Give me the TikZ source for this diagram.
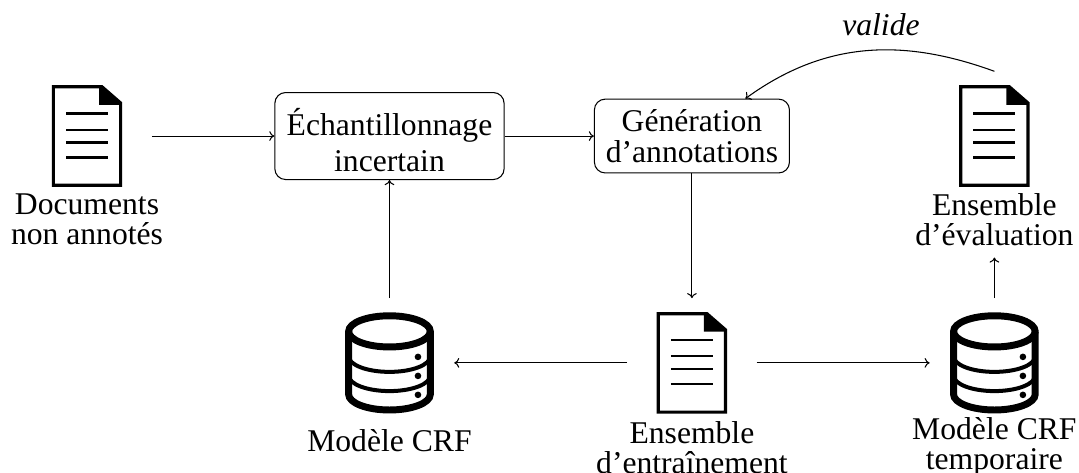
\documentclass[tikz,border=0pt]{standalone}
\usepackage{fontspec}
\setmainfont{Liberation Serif}
\usetikzlibrary{arrows.meta}
\tikzset{
  stepbox/.style={draw,rounded corners=.18cm,align=center,inner sep=0pt},
  iconbox/.style={minimum width=2.14cm,minimum height=2.14cm,inner sep=0pt},
  lbl/.style={align=center,inner sep=0pt},
  docicon/.pic={
    \draw[line width=1.5pt,line join=miter] (-.56,.82) -- (.25,.82) -- (.56,.55) -- (.56,-.82) -- (-.56,-.82) -- cycle;
    \fill (.2,.84) -- (.58,.52) -- (.2,.52) -- cycle;
    \draw[line width=1pt] (-.35,.375) -- (.35,.375);
    \draw[line width=1pt] (-.35,.108) -- (.35,.108);
    \draw[line width=1pt] (-.35,-.108) -- (.35,-.108);
    \draw[line width=1pt] (-.35,-.358) -- (.35,-.358);
  },
  dbicon/.pic={
    \draw[line width=3.3pt] (-.68,.525) arc (180:0:.68 and .26) -- (.68,-.525) arc (0:-180:.68 and .26) -- cycle;
    \draw[line width=3.3pt] (-.68,.525) arc (180:360:.68 and .26);
    \draw[line width=1.9pt] (-.68,.11) arc (180:360:.68 and .26);
    \draw[line width=1.9pt] (-.68,-.21) arc (180:360:.68 and .26);
    \foreach \y in {.1,-.217,-.533} \fill (.475,\y) circle (.055);
  }
}
\begin{document}
\begin{tikzpicture}[>={Computer Modern Rightarrow[width=4.6pt,length=2.4pt]},line width=.5pt,font=\fontsize{15}{14.4}\selectfont]
\useasboundingbox (0,0) rectangle (17.98,7.867);
% top row
\node[iconbox] (docraw) at (1.45,5.6) {};
\pic at (docraw) {docicon};
\node[lbl,anchor=north] (docrawlbl) at (1.45,4.65) {Documents\\non annotés};
\node[stepbox,minimum width=3.82cm,minimum height=1.45cm] (sampling) at (6.49,5.6) {\rule{0pt}{17pt}Échantillonnage\\[2.8pt]incertain};
\node[stepbox,minimum width=3.25cm,minimum height=1.23cm] (gen) at (11.53,5.6) {Génération\\d’annotations};
\node[iconbox] (doceval) at (16.57,5.6) {};
\pic at (doceval) {docicon};
\node[lbl,anchor=north,inner sep=.18cm] (docevallbl) at (16.57,4.83) {Ensemble\\d’évaluation};
% bottom row
\node[iconbox] (crf) at (6.49,1.82) {};
\pic at (crf) {dbicon};
\node[lbl,anchor=north] (crflbl) at (6.49,.72) {Modèle CRF};
\node[iconbox] (doctrain) at (11.53,1.82) {};
\pic at (doctrain) {docicon};
\node[lbl,anchor=north] (doctrainlbl) at (11.53,.85) {Ensemble\\d’entraînement};
\node[iconbox] (crftemp) at (16.57,1.82) {};
\pic at (crftemp) {dbicon};
\node[lbl,anchor=north] (crftemplbl) at (16.57,.92) {Modèle CRF\\temporaire};
\node[font=\fontsize{15}{14.4}\selectfont\itshape] (validelbl) at (14.68,7.45) {valide};
% arrows
\draw[->] (docraw) -- (sampling);
\draw[->] (sampling) -- (gen);
\draw[->] (gen) -- (doctrain);
\draw[->] (doctrain) -- (crf);
\draw[->] (doctrain) -- (crftemp);
\draw[->] (crf) -- (sampling);
\draw[->] (crftemp) -- (docevallbl);
\draw[->] (doceval.north) to[out=160,in=36] (gen.35);
\end{tikzpicture}
\end{document}
